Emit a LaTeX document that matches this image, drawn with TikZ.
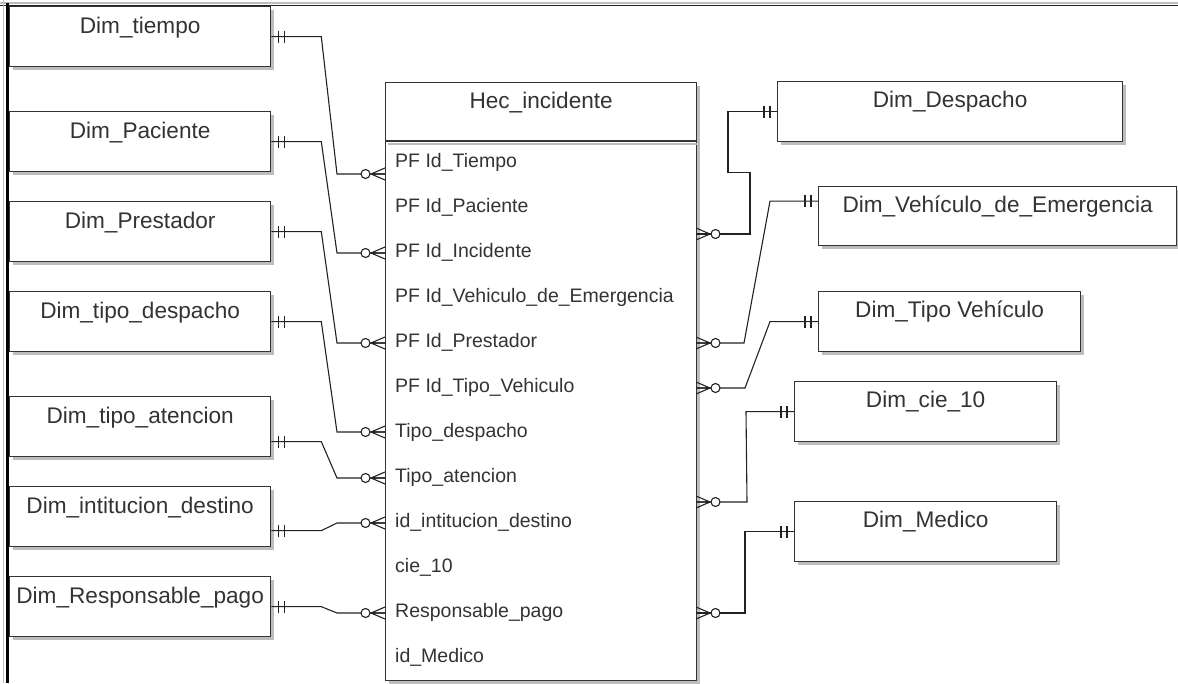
\documentclass[tikz,border=0pt]{standalone}
\usepackage{fontspec}
\setmainfont{Liberation Sans}
\usetikzlibrary{shadows}
\definecolor{ink}{HTML}{333333}
\definecolor{linec}{HTML}{222222}
\definecolor{shad}{HTML}{BDBDBD}
\begin{document}
\begin{tikzpicture}[x=1pt,y=-1pt,
 box/.style={draw=ink, line width=1.3pt, fill=white, rectangle, inner sep=0pt, anchor=north west,
   drop shadow={shadow xshift=3pt, shadow yshift=-3pt, fill=shad, opacity=1}},
 ttl/.style={text=ink, font=\fontsize{22.6pt}{26pt}\selectfont, anchor=base, inner sep=0pt},
 attr/.style={text=ink, font=\fontsize{19.5pt}{23pt}\selectfont, anchor=base west, inner sep=0pt},
 conn/.style={draw=linec, line width=1.1pt},
 onemark/.pic={\draw[conn] (7,-6)--(7,6) (13,-6)--(13,6);},
 zmmark/.pic={\draw[conn] (-14,0)--(0,0) (0,-6)--(-14,0)--(0,6); \draw[conn, fill=white] (-19.5,0) circle[radius=4.5];}
]
\useasboundingbox (0,0) rectangle (1178,683);
% frame
\draw[shad, line width=2pt] (0,2.5) -- (1178,2.5);
\draw[linec, line width=1.5pt] (0,5.5) -- (1178,5.5);
\draw[shad, line width=1.5pt] (3.5,0) -- (3.5,683);
\draw[black, line width=3pt] (7,3) -- (7,683);

% left dimension boxes
\node[box, minimum width=261pt, minimum height=60pt] (tiempo) at (9,6) {};
\node[ttl] (t-tiempo) at ([yshift=-27pt]tiempo.north) {Dim\_tiempo};
\node[box, minimum width=261pt, minimum height=60pt] (pac) at (9,111) {};
\node[ttl] (t-pac) at ([yshift=-27pt]pac.north) {Dim\_Paciente};
\node[box, minimum width=261pt, minimum height=60pt] (pres) at (9,201) {};
\node[ttl] (t-pres) at ([yshift=-27pt]pres.north) {Dim\_Prestador};
\node[box, minimum width=261pt, minimum height=60pt] (tdesp) at (9,291) {};
\node[ttl] (t-tdesp) at ([yshift=-27pt]tdesp.north) {Dim\_tipo\_despacho};
\node[box, minimum width=261pt, minimum height=60pt] (taten) at (9,396) {};
\node[ttl] (t-taten) at ([yshift=-27pt]taten.north) {Dim\_tipo\_atencion};
\node[box, minimum width=261pt, minimum height=60pt] (inst) at (9,486) {};
\node[ttl] (t-inst) at ([yshift=-27pt]inst.north) {Dim\_intitucion\_destino};
\node[box, minimum width=261pt, minimum height=60pt] (resp) at (9,576) {};
\node[ttl] (t-resp) at ([yshift=-27pt]resp.north) {Dim\_Responsable\_pago};

% right dimension boxes
\node[box, minimum width=345pt, minimum height=60pt] (desp) at (777,81) {};
\node[ttl] (t-desp) at ([yshift=-26pt]desp.north) {Dim\_Despacho};
\node[box, minimum width=358pt, minimum height=59pt] (veh) at (818,186) {};
\node[ttl] (t-veh) at ([yshift=-26pt]veh.north) {Dim\_Vehículo\_de\_Emergencia};
\node[box, minimum width=262pt, minimum height=60pt] (tveh) at (818,291) {};
\node[ttl] (t-tveh) at ([yshift=-26pt]tveh.north) {Dim\_Tipo Vehículo};
\node[box, minimum width=262pt, minimum height=60pt] (cie) at (794,381) {};
\node[ttl] (t-cie) at ([yshift=-26pt]cie.north) {Dim\_cie\_10};
\node[box, minimum width=262pt, minimum height=60pt] (med) at (794,501) {};
\node[ttl] (t-med) at ([yshift=-26pt]med.north) {Dim\_Medico};

% fact entity
\node[box, minimum width=311pt, minimum height=598pt] (ent) at (385,82) {};
\node[ttl] (t-ent) at ([yshift=-26pt]ent.north) {Hec\_incidente};
\draw[shad, line width=2pt] ([shift={(3pt,-62pt)}]ent.north west) -- ([shift={(3pt,-62pt)}]ent.north east);
\draw[draw=ink, line width=1.3pt] ([yshift=-59pt]ent.north west) -- ([yshift=-59pt]ent.north east);

\node[attr] (a1) at (395,167) {PF Id\_Tiempo};
\node[attr] (a2) at (395,212) {PF Id\_Paciente};
\node[attr] (a3) at (395,257) {PF Id\_Incidente};
\node[attr] (a4) at (395,302) {PF Id\_Vehiculo\_de\_Emergencia};
\node[attr] (a5) at (395,347) {PF Id\_Prestador};
\node[attr] (a6) at (395,392) {PF Id\_Tipo\_Vehiculo};
\node[attr] (a7) at (395,437) {Tipo\_despacho};
\node[attr] (a8) at (395,482) {Tipo\_atencion};
\node[attr] (a9) at (395,527) {id\_intitucion\_destino};
\node[attr] (a10) at (395,572) {cie\_10};
\node[attr] (a11) at (395,617) {Responsable\_pago};
\node[attr] (a12) at (395,662) {id\_Medico};

% connector end points on the entity
\coordinate (L1) at (385,174);
\coordinate (L2) at (385,253);
\coordinate (L3) at (385,343);
\coordinate (L4) at (385,432);
\coordinate (L5) at (385,478);
\coordinate (L6) at (385,523);
\coordinate (L7) at (385,613);
\coordinate (R1) at (696,234);
\coordinate (R2) at (696,343);
\coordinate (R3) at (696,388);
\coordinate (R4) at (696,502);
\coordinate (R5) at (696,613);
\coordinate (taten-c) at ([yshift=-15pt]taten.east);
\coordinate (inst-c) at ([yshift=-14pt]inst.east);
\coordinate (veh-c) at ([yshift=15pt]veh.west);

% left connectors
\draw[conn] (tiempo.east) -- ++(50,0) -- ([xshift=-48pt]L1) -- (L1);
\draw[conn] (pac.east) -- ++(50,0) -- ([xshift=-48pt]L2) -- (L2);
\draw[conn] (pres.east) -- ++(50,0) -- ([xshift=-48pt]L3) -- (L3);
\draw[conn] (tdesp.east) -- ++(50,0) -- ([xshift=-48pt]L4) -- (L4);
\draw[conn] (taten-c) -- ++(50,0) -- ([xshift=-48pt]L5) -- (L5);
\draw[conn] (inst-c) -- ++(50,0) -- ([xshift=-48pt]L6) -- (L6);
\draw[conn] (resp.east) -- ++(50,0) -- ([xshift=-48pt]L7) -- (L7);

% right connectors
\draw[conn] (desp.west) -- ++(-49,0) -- ++(0,61) -- ++(22,0) -- ([xshift=54pt]R1) -- (R1);
\draw[conn] (veh-c) -- ++(-48,0) -- ([xshift=48pt]R2) -- (R2);
\draw[conn] (tveh.west) -- ++(-48,0) -- ([xshift=49pt]R3) -- (R3);
\draw[conn] (cie.west) -- ++(-48,0) -- ([xshift=51pt]R4) -- (R4);
\draw[conn] (med.west) -- ++(-49,0) -- ([xshift=49pt]R5) -- (R5);

% cardinality marks
\pic at (tiempo.east) {onemark};
\pic at (pac.east) {onemark};
\pic at (pres.east) {onemark};
\pic at (tdesp.east) {onemark};
\pic at (taten-c) {onemark};
\pic at (inst-c) {onemark};
\pic at (resp.east) {onemark};
\pic[rotate=180] at (desp.west) {onemark};
\pic[rotate=180] at (veh-c) {onemark};
\pic[rotate=180] at (tveh.west) {onemark};
\pic[rotate=180] at (cie.west) {onemark};
\pic[rotate=180] at (med.west) {onemark};
\pic at (L1) {zmmark};
\pic at (L2) {zmmark};
\pic at (L3) {zmmark};
\pic at (L4) {zmmark};
\pic at (L5) {zmmark};
\pic at (L6) {zmmark};
\pic at (L7) {zmmark};
\pic[rotate=180] at (R1) {zmmark};
\pic[rotate=180] at (R2) {zmmark};
\pic[rotate=180] at (R3) {zmmark};
\pic[rotate=180] at (R4) {zmmark};
\pic[rotate=180] at (R5) {zmmark};
\end{tikzpicture}
\end{document}
